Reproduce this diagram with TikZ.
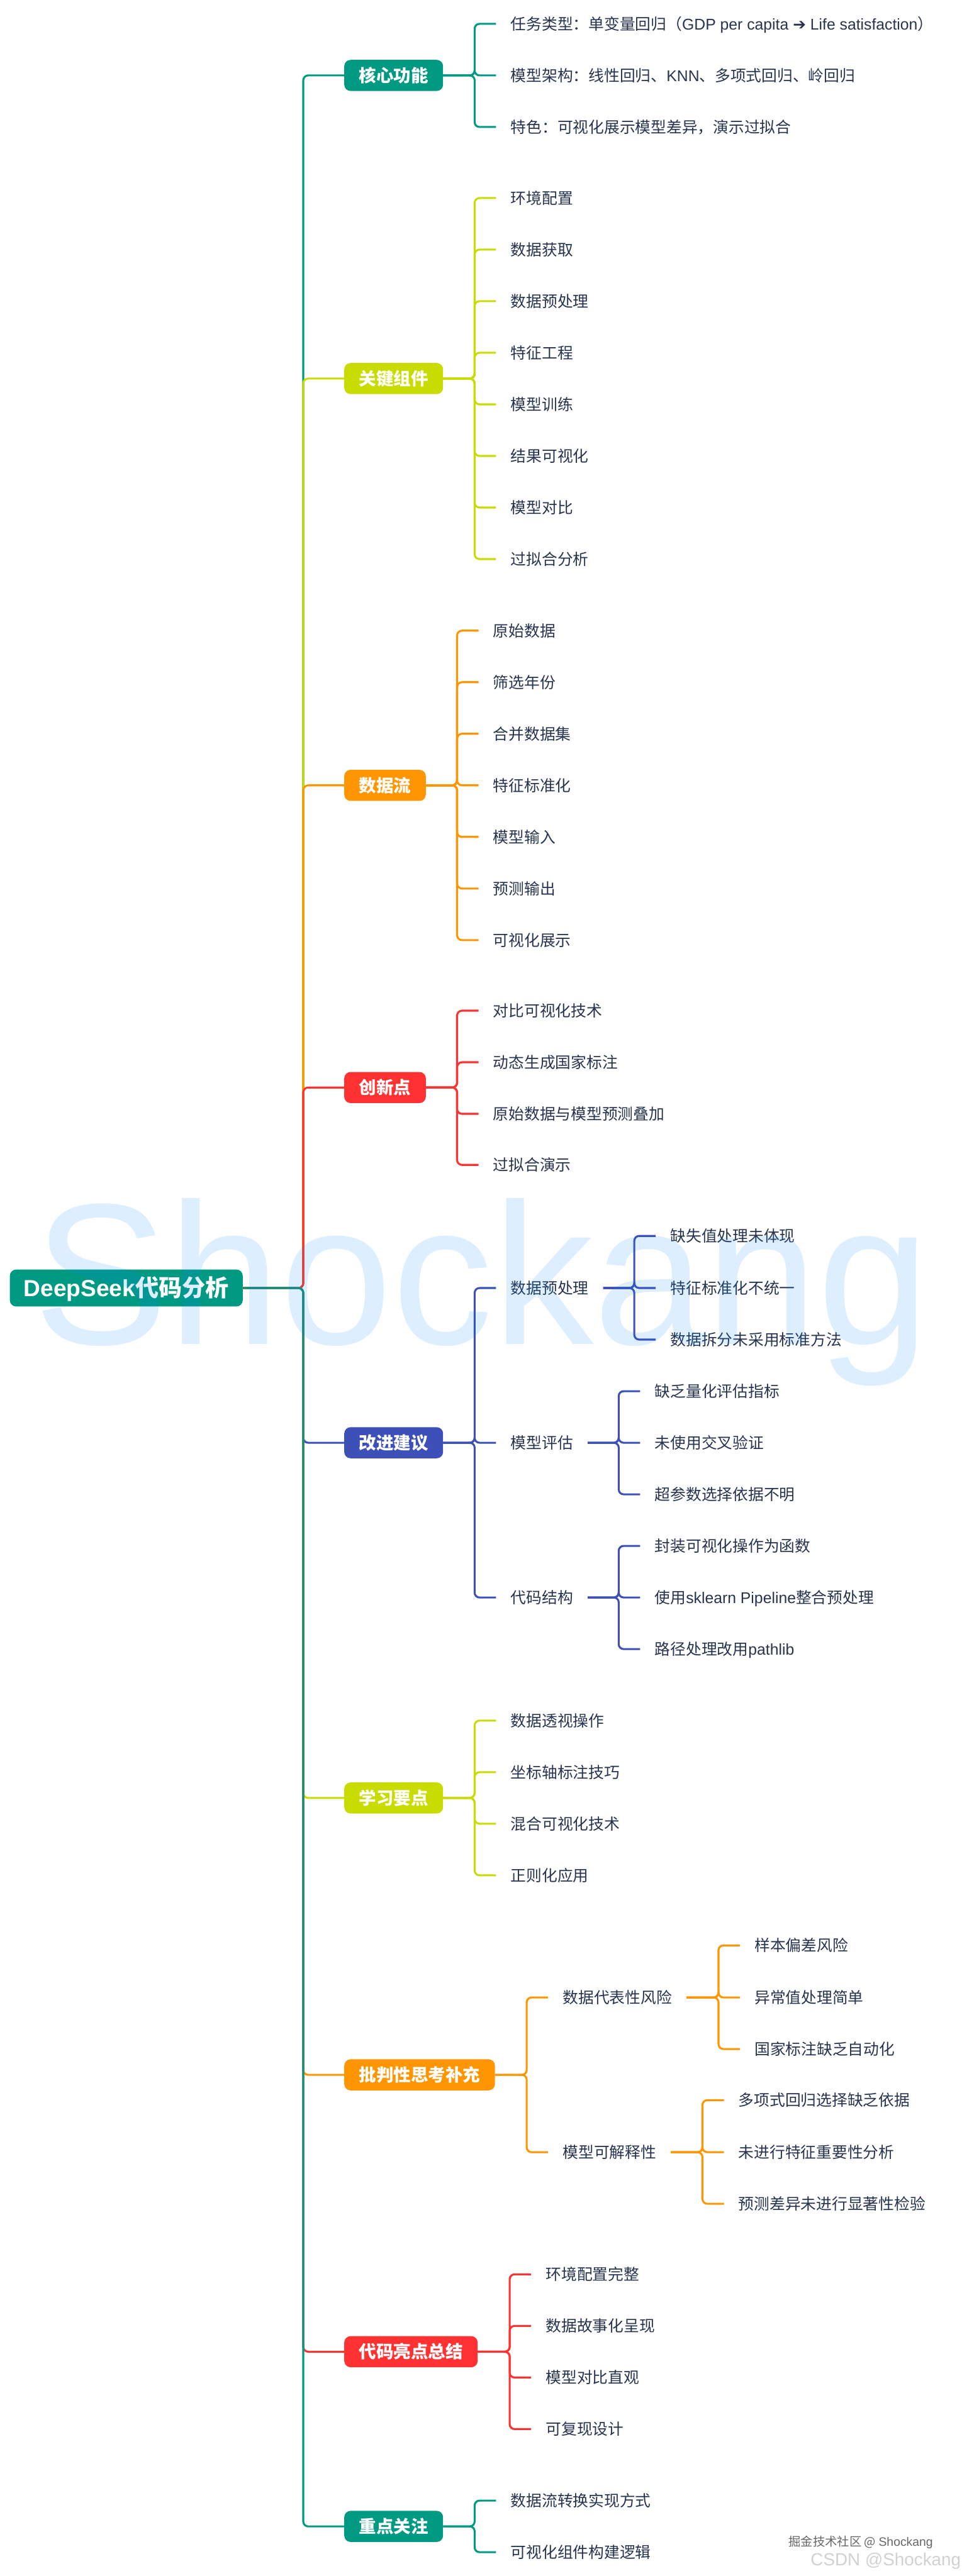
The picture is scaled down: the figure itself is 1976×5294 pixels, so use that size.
\documentclass[tikz,border=0pt]{standalone}
\usepackage{fontspec}
\setmainfont{Noto Sans CJK SC}
\newfontfamily\latinfont{Liberation Sans}
\newfontfamily\arrowfont{DejaVu Sans}
\newcommand{\lat}[1]{{\latinfont #1}}
\definecolor{teal}{HTML}{009A83}
\definecolor{lime}{HTML}{C9DC00}
\definecolor{amber}{HTML}{FF9500}
\definecolor{scarlet}{HTML}{FF3131}
\definecolor{indigo}{HTML}{3D50B8}
\definecolor{ink}{HTML}{27344F}
\definecolor{markblue}{HTML}{0080FF}
\tikzset{
  rootbox/.style={anchor=west, fill=teal, text=white, rounded corners=13pt, inner xsep=28.5pt, inner ysep=14pt,
    text height=42pt, text depth=6pt, font=\fontsize{48pt}{52pt}\selectfont\bfseries},
  branch/.style={anchor=west, fill=#1, text=white, rounded corners=13pt, inner xsep=30.5pt, inner ysep=14.3pt,
    text height=31pt, text depth=4.3pt, font=\fontsize{35.5pt}{40pt}\selectfont\bfseries},
  leaf/.style={anchor=west, text=ink, inner xsep=30pt, inner ysep=2pt, text height=28.2pt, text depth=3.8pt,
    font=\fontsize{32pt}{36pt}\selectfont},
  link/.style={draw=#1, line width=4pt, rounded corners=10pt},
}
\begin{document}
\begin{tikzpicture}[x=1pt,y=-1pt]
  \useasboundingbox (0,0) rectangle (1976,5294);

  % Define root and main branches
  \node[rootbox] (root) at (20,2647) {\lat{DeepSeek}代码分析};
  \node[branch=teal] (core) at (707,155) {核心功能};
  \node[branch=lime] (parts) at (707,778) {关键组件};
  \node[branch=amber] (flow) at (707,1614) {数据流};
  \node[branch=scarlet] (ideas) at (707,2235) {创新点};
  \node[branch=indigo] (better) at (707,2965) {改进建议};
  \node[branch=lime] (learn) at (707,3695) {学习要点};
  \node[branch=amber] (critic) at (707,4264) {批判性思考补充};
  \node[branch=scarlet] (shine) at (707,4833) {代码亮点总结};
  \node[branch=teal] (focus) at (707,5192) {重点关注};

  % Draw trunk, later branches lie over earlier ones
  \foreach \b/\c in {core/teal, parts/lime, flow/amber, ideas/scarlet, better/indigo,
                     learn/lime, critic/amber, shine/scarlet, focus/teal} {
    \draw[link=\c] (root.east) -| ([xshift=-84pt]\b.west) -- (\b.west);
  }

  % Core function
  \foreach \n/\y/\t in {core1/49/{任务类型：单变量回归（\lat{GDP per capita {\arrowfont\bfseries ➔} Life satisfaction}）},
                        core2/155/{模型架构：线性回归、\lat{KNN}、多项式回归、岭回归},
                        core3/261/{特色：可视化展示模型差异，演示过拟合}} {
    \node[leaf] (\n) at (1019,\y) {\t};
    \draw[link=teal] (core.east) -| ([xshift=-44pt]\n.west) -- (\n.west);
  }

  % Key parts
  \foreach \n/\y/\t in {parts1/407/环境配置, parts2/513/数据获取, parts3/619/数据预处理, parts4/725/特征工程,
                        parts5/831/模型训练, parts6/937/结果可视化, parts7/1043/模型对比, parts8/1149/过拟合分析} {
    \node[leaf] (\n) at (1019,\y) {\t};
    \draw[link=lime] (parts.east) -| ([xshift=-44pt]\n.west) -- (\n.west);
  }

  % Data flow
  \foreach \n/\y/\t in {flow1/1296/原始数据, flow2/1402/筛选年份, flow3/1508/合并数据集, flow4/1614/特征标准化,
                        flow5/1720/模型输入, flow6/1826/预测输出, flow7/1932/可视化展示} {
    \node[leaf] (\n) at (983,\y) {\t};
    \draw[link=amber] (flow.east) -| ([xshift=-44pt]\n.west) -- (\n.west);
  }

  % New ideas
  \foreach \n/\y/\t in {ideas1/2077/对比可视化技术, ideas2/2183/动态生成国家标注,
                        ideas3/2289/原始数据与模型预测叠加, ideas4/2394/过拟合演示} {
    \node[leaf] (\n) at (983,\y) {\t};
    \draw[link=scarlet] (ideas.east) -| ([xshift=-44pt]\n.west) -- (\n.west);
  }

  % Suggestions, two levels
  \foreach \n/\y/\t in {prep/2647/数据预处理, eval/2965/模型评估, code/3283/代码结构} {
    \node[leaf] (\n) at (1019,\y) {\t};
    \draw[link=indigo] (better.east) -| ([xshift=-44pt]\n.west) -- (\n.west);
  }
  \foreach \n/\y/\t in {prep1/2540/缺失值处理未体现, prep2/2647/特征标准化不统一, prep3/2753/数据拆分未采用标准方法} {
    \node[leaf] (\n) at (1347,\y) {\t};
    \draw[link=indigo] (prep.east) -| ([xshift=-44pt]\n.west) -- (\n.west);
  }
  \foreach \n/\y/\t in {eval1/2859/缺乏量化评估指标, eval2/2965/未使用交叉验证, eval3/3071/超参数选择依据不明} {
    \node[leaf] (\n) at (1315,\y) {\t};
    \draw[link=indigo] (eval.east) -| ([xshift=-44pt]\n.west) -- (\n.west);
  }
  \foreach \n/\y/\t in {code1/3177/封装可视化操作为函数, code2/3283/使用\lat{sklearn Pipeline}整合预处理, code3/3389/路径处理改用\lat{pathlib}} {
    \node[leaf] (\n) at (1315,\y) {\t};
    \draw[link=indigo] (code.east) -| ([xshift=-44pt]\n.west) -- (\n.west);
  }

  % Learning points
  \foreach \n/\y/\t in {learn1/3536/数据透视操作, learn2/3642/坐标轴标注技巧, learn3/3748/混合可视化技术, learn4/3854/正则化应用} {
    \node[leaf] (\n) at (1019,\y) {\t};
    \draw[link=lime] (learn.east) -| ([xshift=-44pt]\n.west) -- (\n.west);
  }

  % Critical thinking, two levels
  \foreach \n/\y/\t in {risk/4105/数据代表性风险, model/4423/模型可解释性} {
    \node[leaf] (\n) at (1126,\y) {\t};
    \draw[link=amber] (critic.east) -| ([xshift=-44pt]\n.west) -- (\n.west);
  }
  \foreach \n/\y/\t in {risk1/3998/样本偏差风险, risk2/4105/异常值处理简单, risk3/4211/国家标注缺乏自动化} {
    \node[leaf] (\n) at (1520,\y) {\t};
    \draw[link=amber] (risk.east) -| ([xshift=-44pt]\n.west) -- (\n.west);
  }
  \foreach \n/\y/\t in {model1/4316/多项式回归选择缺乏依据, model2/4423/未进行特征重要性分析, model3/4529/预测差异未进行显著性检验} {
    \node[leaf] (\n) at (1487,\y) {\t};
    \draw[link=amber] (model.east) -| ([xshift=-44pt]\n.west) -- (\n.west);
  }

  % Highlights
  \foreach \n/\y/\t in {shine1/4674/环境配置完整, shine2/4780/数据故事化呈现, shine3/4886/模型对比直观, shine4/4992/可复现设计} {
    \node[leaf] (\n) at (1091,\y) {\t};
    \draw[link=scarlet] (shine.east) -| ([xshift=-44pt]\n.west) -- (\n.west);
  }

  % Focus
  \foreach \n/\y/\t in {focus1/5139/数据流转换实现方式, focus2/5245/可视化组件构建逻辑} {
    \node[leaf] (\n) at (1019,\y) {\t};
    \draw[link=teal] (focus.east) -| ([xshift=-44pt]\n.west) -- (\n.west);
  }

  % Watermarks
  \node[anchor=base west, inner sep=0pt, text=markblue, text opacity=0.133, font=\fontsize{414pt}{414pt}\latinfont] (mark) at (69,2762) {Shockang};
  \node[anchor=base west, inner sep=0pt, text=black!60, font=\fontsize{25pt}{28pt}\selectfont] (juejin) at (1620,5232) {掘金技术社区 @ \lat{Shockang}};
  \node[anchor=base west, inner sep=0pt, text=black!18, font=\fontsize{36pt}{40pt}\latinfont] (csdn) at (1665,5273) {CSDN @Shockang};
\end{tikzpicture}
\end{document}
